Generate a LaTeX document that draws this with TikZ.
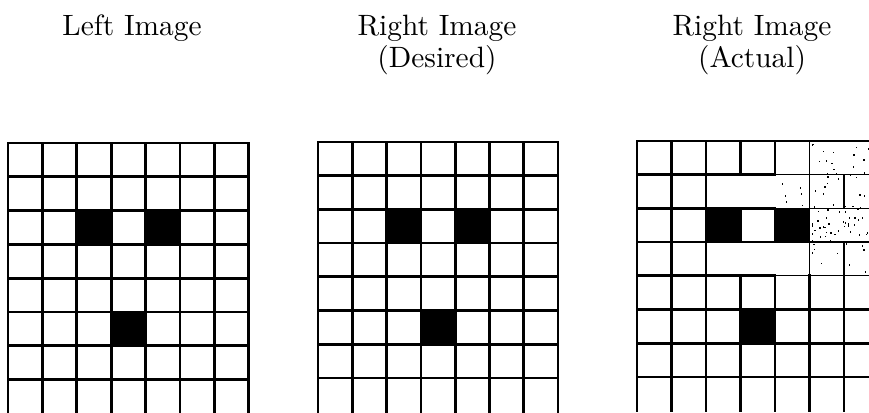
\documentclass[tikz,border=0pt]{standalone}
\usepackage{tikz}

\tikzset{
  gridline/.style={line width=0.9pt, line cap=rect},
  thinline/.style={line width=0.45pt, line cap=rect},
  caption/.style={font=\fontsize{10}{11}\selectfont, align=center, inner sep=0pt},
}

\begin{document}
\begin{tikzpicture}[x=0.34pt, y=-0.34pt]
  \useasboundingbox (0,0) rectangle (869,412);
  \clip (0,0) rectangle (869,412);

  % Titles
  \node[caption, anchor=base] (lefttitle) at (132,35) {Left Image};
  \node[caption, anchor=north] (desiredtitle) at (437,14) {Right Image\\(Desired)};
  \node[caption, anchor=north] (actualtitle) at (752,14) {Right Image\\(Actual)};

  % Left image
  \begin{scope}[shift={(8,143)}, xscale=34.4, yscale=33.8]
    \foreach \c/\r in {2/2, 4/2, 3/5} \fill (\c,\r) rectangle ++(1,1);
    \foreach \i in {0,...,7} \draw[gridline] (\i,0) -- (\i,8);
    \foreach \j in {0,...,7} \draw[gridline] (0,\j) -- (7,\j);
  \end{scope}

  % Right image, desired
  \begin{scope}[shift={(318,142)}, xscale=34.3, yscale=33.7]
    \foreach \c/\r in {2/2, 4/2, 3/5} \fill (\c,\r) rectangle ++(1,1);
    \foreach \i in {0,...,7} \draw[gridline] (\i,0) -- (\i,8);
    \foreach \j in {0,...,7} \draw[gridline] (0,\j) -- (7,\j);
  \end{scope}

  % Right image, actual
  \begin{scope}[shift={(637,141)}, xscale=34.5, yscale=33.7]
    \foreach \c/\r in {2/2, 4/2, 3/5} \fill (\c,\r) rectangle ++(1,1);
    % horizontal lines
    \foreach \j in {0,...,4} {
      \draw[gridline] (0,\j) -- (4,\j);
      \draw[thinline] (4,\j) -- (7,\j);
    }
    \foreach \j in {5,...,7} \draw[gridline] (0,\j) -- (7,\j);
    % vertical lines
    \foreach \i in {0,1,2} \draw[gridline] (\i,0) -- (\i,8);
    \draw[gridline] (3,0) -- (3,1) (3,2) -- (3,3) (3,4) -- (3,8);
    \draw[gridline] (4,0) -- (4,1) (4,2) -- (4,3) (4,4) -- (4,8);
    \draw[thinline] (5,0) -- (5,4) (6,1) -- (6,2) (6,3) -- (6,4);
    \draw[gridline] (5,4) -- (5,8) (6,4) -- (6,8);
    % noise in the merged cells
    \pgfmathsetseed{11}
    \foreach \k in {1,...,70} \fill ({5.05+1.9*rnd},{0.05+3.9*rnd}) rectangle ++(0.035,0.05);
    \foreach \k in {1,...,25} \fill ({5.05+1.9*rnd},{2.05+0.9*rnd}) rectangle ++(0.035,0.05);
    \foreach \k in {1,...,6} \fill ({3.5+1.4*rnd},{1.1+0.8*rnd}) rectangle ++(0.035,0.05);
  \end{scope}
\end{tikzpicture}
\end{document}
